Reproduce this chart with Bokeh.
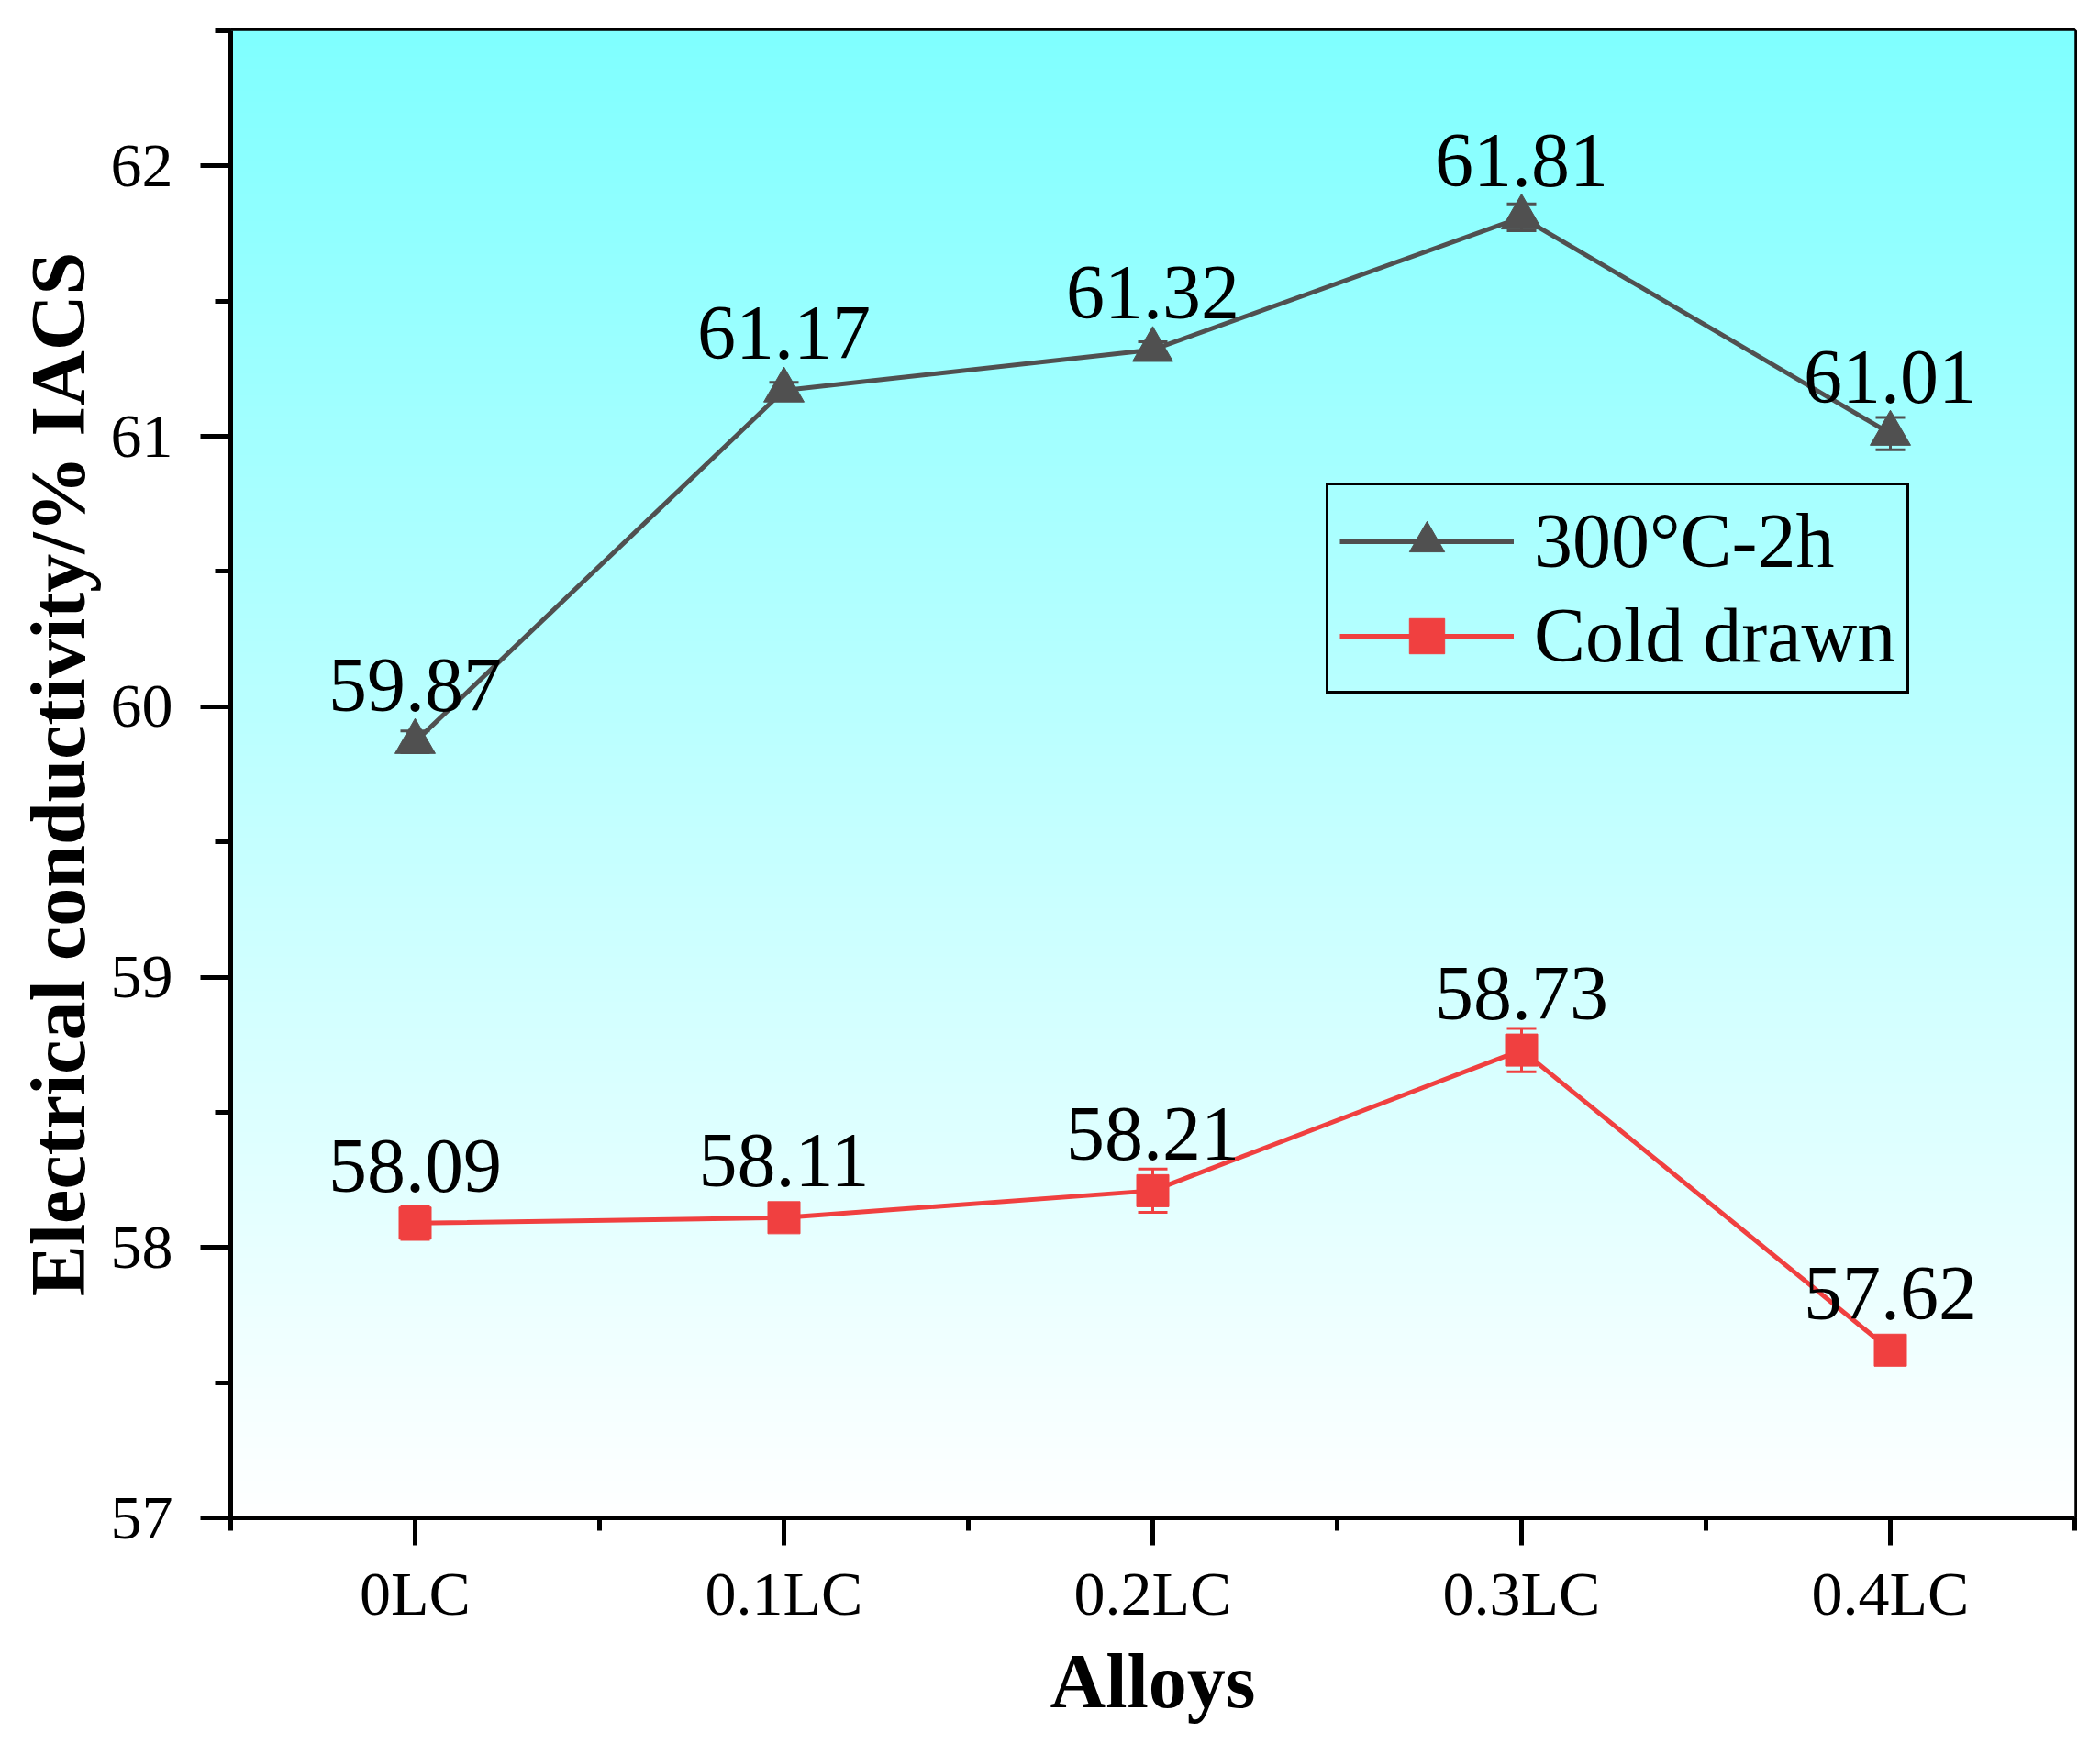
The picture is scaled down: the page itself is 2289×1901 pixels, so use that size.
import numpy as np
from bokeh.plotting import figure
from bokeh.models import (FixedTicker, Legend, LegendItem, ColumnDataSource, Whisker,
                          TeeHead, LabelSet)
from bokeh.embed import file_html
from bokeh.resources import INLINE

# data
alloys = ["0LC", "0.1LC", "0.2LC", "0.3LC", "0.4LC"]
annealed = [59.87, 61.17, 61.32, 61.81, 61.01]      # 300°C-2h
annealed_err = [0.04, 0.03, 0.03, 0.05, 0.06]
cold = [58.09, 58.11, 58.21, 58.73, 57.62]          # Cold drawn
cold_err = [0.06, 0.05, 0.08, 0.08, 0.02]
y_ticks = [57, 58, 59, 60, 61, 62]

FONT = "Liberation Serif"
GRAY = "#505050"
RED = "#F04040"

x = list(range(len(alloys)))

p = figure(width=2273, height=1885, x_range=(-0.5, 4.5), y_range=(57, 62.5),
           output_backend="svg", toolbar_location=None,
           min_border_left=251, min_border_right=12, min_border_top=33, min_border_bottom=231)
p.grid.visible = False
p.outline_line_color = "black"
p.outline_line_width = 5
p.outline_line_alpha = 1
p.background_fill_color = "white"
p.border_fill_color = "white"

# cyan -> white vertical gradient for the plot area
n = 400
t = np.linspace(0, 1, n)
img = np.zeros((n, 1), dtype=np.uint32)
view = img.view(dtype=np.uint8).reshape((n, 1, 4))
view[:, 0, 0] = (255 - 127 * t).astype(np.uint8)
view[:, 0, 1] = 255
view[:, 0, 2] = 255
view[:, 0, 3] = 255
p.image_rgba(image=[img], x=-0.5, y=57, dw=5, dh=5.5, level="image")

# error bars
def add_errors(vals, errs, color):
    src = ColumnDataSource(dict(x=x,
                                lo=[v - e for v, e in zip(vals, errs)],
                                hi=[v + e for v, e in zip(vals, errs)]))
    w = Whisker(source=src, base="x", lower="lo", upper="hi",
                line_color=color, line_width=3,
                lower_head=TeeHead(size=32, line_color=color, line_width=3),
                upper_head=TeeHead(size=32, line_color=color, line_width=3))
    p.add_layout(w)

add_errors(annealed, annealed_err, GRAY)
add_errors(cold, cold_err, RED)

la = p.line(x, annealed, line_color=GRAY, line_width=5)
ma = p.scatter(x, annealed, marker="triangle", size=44, fill_color=GRAY, line_color=GRAY)
lc = p.line(x, cold, line_color=RED, line_width=5)
mc = p.scatter(x, cold, marker="square", size=35, fill_color=RED, line_color=RED)

# value labels above the points
for vals in (annealed, cold):
    lsrc = ColumnDataSource(dict(x=x, y=vals, txt=[f"{v:.2f}" for v in vals]))
    p.add_layout(LabelSet(x="x", y="y", text="txt", source=lsrc, y_offset=34,
                          text_font=FONT, text_font_size="84px", text_align="center",
                          text_baseline="alphabetic", text_color="black"))

legend = Legend(items=[LegendItem(label="300°C-2h", renderers=[la, ma]),
                       LegendItem(label="Cold drawn", renderers=[lc, mc])],
                location=(1194, 898), margin=0, padding=12, spacing=6,
                glyph_width=190, glyph_height=96, label_standoff=22,
                label_text_font=FONT, label_text_font_size="84px",
                label_text_color="black",
                border_line_color="black", border_line_width=3, border_line_alpha=1,
                background_fill_alpha=0)
p.add_layout(legend)

p.xaxis.ticker = FixedTicker(ticks=x, minor_ticks=[i - 0.5 for i in range(len(alloys) + 1)])
p.xaxis.major_label_overrides = {i: a for i, a in enumerate(alloys)}
p.yaxis.ticker = FixedTicker(ticks=y_ticks, minor_ticks=[v + 0.5 for v in y_ticks])
p.xaxis.axis_label = "Alloys"
p.yaxis.axis_label = "Electrical conductivity/% IACS"

for ax in (p.xaxis[0], p.yaxis[0]):
    ax.axis_line_width = 5
    ax.axis_line_color = "black"
    ax.major_tick_line_width = 5
    ax.minor_tick_line_width = 5
    ax.major_tick_line_color = "black"
    ax.minor_tick_line_color = "black"
    ax.major_tick_in = 0
    ax.minor_tick_in = 0
    ax.major_label_text_font = FONT
    ax.major_label_text_font_size = "68px"
    ax.major_label_text_color = "black"
    ax.axis_label_text_font = FONT
    ax.axis_label_text_font_style = "bold"
    ax.axis_label_text_font_size = "84px"
    ax.axis_label_text_color = "black"

p.xaxis.major_tick_out = 30
p.xaxis.minor_tick_out = 14
p.xaxis.major_label_standoff = 14
p.xaxis.axis_label_standoff = 8
p.yaxis.major_tick_out = 33
p.yaxis.minor_tick_out = 17
p.yaxis.major_label_standoff = 30
p.yaxis.axis_label_standoff = 8

open("out.html", "w").write(file_html(p, INLINE))
